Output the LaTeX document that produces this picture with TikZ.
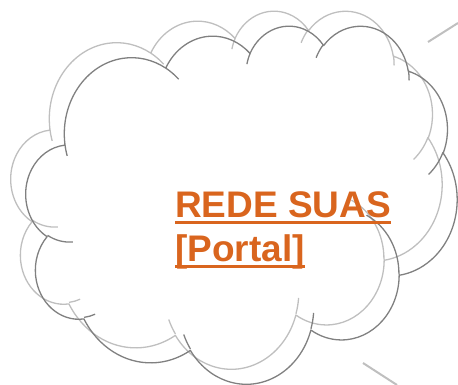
\documentclass[tikz,border=0pt]{standalone}
\usepackage{fontspec}
\setmainfont{Liberation Sans}
\usepackage{tikz}

\definecolor{suasorange}{HTML}{D9651E}
\definecolor{clouddark}{HTML}{808080}
\definecolor{cloudlight}{HTML}{BFBFBF}

% thick underline at a fixed distance below the baseline
\newcommand{\thickul}[1]{\setbox0=\hbox{#1}\rlap{\rule[-6.2pt]{\wd0}{3pt}}\box0}

% cloud outline, lobes in units of 1/100 of the shape box
\newcommand{\cloudoutline}{%
  (39.00,143.70)
  arc[x radius=67.53, y radius=91.90, start angle=-187.74, end angle=-59.64]
  arc[x radius=53.33, y radius=72.67, start angle=-152.02, end angle=-45.46]
  arc[x radius=43.65, y radius=59.45, start angle=-153.49, end angle=-37.33]
  arc[x radius=48.57, y radius=65.95, start angle=-139.72, end angle=-10.21]
  arc[x radius=53.33, y radius=72.73, start angle=-74.77, end angle=23.21]
  arc[x radius=67.75, y radius=92.20, start angle=-37.52, end angle=81.86]
  arc[x radius=57.85, y radius=78.67, start angle=0.46, end angle=121.98]
  arc[x radius=67.52, y radius=92.15, start angle=16.84, end angle=146.23]
  arc[x radius=77.20, y radius=105.43, start angle=58.99, end angle=150.19]
  arc[x radius=43.60, y radius=59.18, start angle=83.31, end angle=223.11]
  arc[x radius=43.45, y radius=59.45, start angle=120.36, end angle=264.11]
  -- cycle
  (46.93,261.77) arc[x radius=43.45, y radius=59.45, start angle=85.55, end angle=120.36]
  (69.28,348.99) arc[x radius=43.60, y radius=59.18, start angle=68.23, end angle=83.31]
  (164.78,390.90) arc[x radius=67.52, y radius=92.15, start angle=146.23, end angle=158.47]
  (288.27,347.51) arc[x radius=67.52, y radius=92.15, start angle=4.74, end angle=16.84]
  (341.29,229.54) arc[x radius=57.85, y radius=78.67, start angle=-64.03, end angle=0.46]
  (417.98,153.54) arc[x radius=53.33, y radius=72.73, start angle=23.21, end angle=49.62]
  (383.24,54.26) arc[x radius=48.57, y radius=65.95, start angle=-10.21, end angle=0.82]
  (290.78,39.52) arc[x radius=48.57, y radius=65.95, start angle=-156.31, end angle=-139.72]
  (221.41,47.20) arc[x radius=43.65, y radius=59.45, start angle=-167.73, end angle=-153.49]
  (140.00,51.92) arc[x radius=67.53, y radius=91.90, start angle=-59.64, end angle=-45.73]
  (41.27,157.89) arc[x radius=67.53, y radius=91.90, start angle=163.19, end angle=172.26]}

\tikzset{
  cloudline/.style={line width=1.3pt, line join=round},
  linkline/.style={cloudlight, line width=2pt},
  portal/.style={text=suasorange, font=\fontsize{37}{44}\selectfont\bfseries,
    align=left, inner sep=0pt}
}

\begin{document}
\begin{tikzpicture}[x=1pt,y=-1pt]
  \useasboundingbox (0,0) rectangle (458,385);

  % two cloud outlines
  \begin{scope}[shift={(11,10)}, x=0.9977pt, y=-0.8287pt]
    \draw[cloudline, cloudlight] \cloudoutline;
  \end{scope}
  \begin{scope}[shift={(26,25)}, x=0.9977pt, y=-0.8287pt]
    \draw[cloudline, clouddark] \cloudoutline;
  \end{scope}

  \node[portal, anchor=base west] (rede) at (175,261.5)
    {\thickul{REDE SUAS}\\\thickul{[Portal]}};

  % links leaving the picture
  \coordinate (linkA) at (428,42);
  \coordinate (linkAend) at (458,23);
  \coordinate (linkB) at (363,363);
  \coordinate (linkBend) at (397,385);
  \draw[linkline] (linkA) -- (linkAend);
  \draw[linkline] (linkB) -- (linkBend);
\end{tikzpicture}
\end{document}
